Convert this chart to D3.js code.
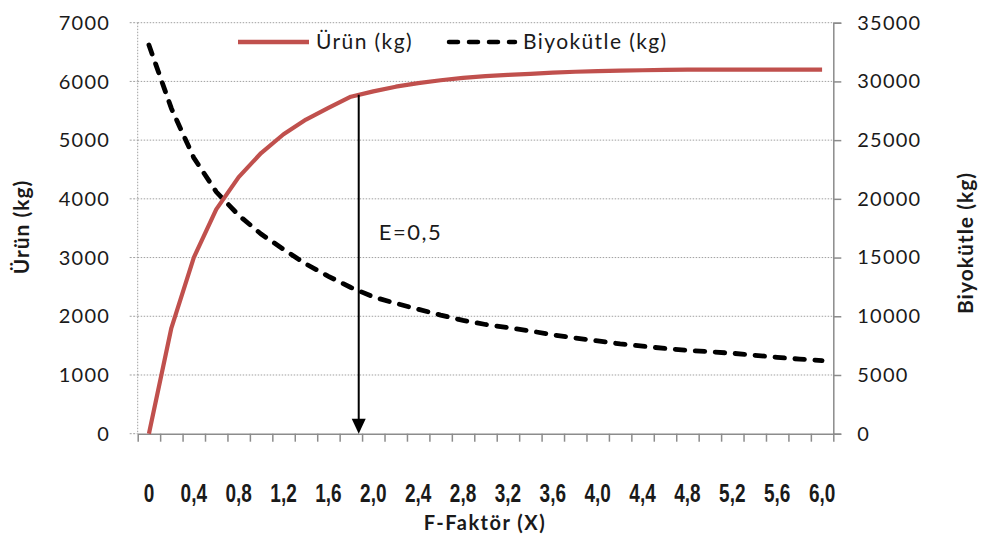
<!DOCTYPE html>
<html>
<head>
<meta charset="utf-8">
<script src="https://cdn.jsdelivr.net/npm/d3@7"></script>
<style>
  body { margin: 0; background: #fff; }
  svg { display: block; }
</style>
</head>
<body>
<svg id="chart" width="983" height="538"></svg>
<script>
// F factor categories (X)
const fValues = [0, 0.2, 0.4, 0.6, 0.8, 1.0, 1.2, 1.4, 1.6, 1.8, 2.0, 2.2, 2.4, 2.6, 2.8, 3.0,
                 3.2, 3.4, 3.6, 3.8, 4.0, 4.2, 4.4, 4.6, 4.8, 5.0, 5.2, 5.4, 5.6, 5.8, 6.0];
// Yield (kg), left axis
const urunKg = [0, 1800, 3000, 3820, 4370, 4780, 5100, 5350, 5550, 5740, 5830, 5910, 5970, 6020, 6060, 6090,
                6110, 6130, 6150, 6165, 6175, 6185, 6190, 6195, 6200, 6200, 6200, 6200, 6200, 6200, 6200];
// Biomass (kg), right axis
const biyokutleKg = [33100, 27700, 23500, 20600, 18600, 17000, 15700, 14450, 13400, 12450, 11650, 11100, 10600, 10100, 9650, 9300,
                     9030, 8750, 8420, 8150, 7900, 7650, 7450, 7260, 7100, 6980, 6850, 6680, 6500, 6350, 6220];
// Axis tick labels
const xTickValues = [0, 0.4, 0.8, 1.2, 1.6, 2.0, 2.4, 2.8, 3.2, 3.6, 4.0, 4.4, 4.8, 5.2, 5.6, 6.0];
const xTickLabels = ["0", "0,4", "0,8", "1,2", "1,6", "2,0", "2,4", "2,8", "3,2", "3,6", "4,0", "4,4", "4,8", "5,2", "5,6", "6,0"];
const leftTicks = [0, 1000, 2000, 3000, 4000, 5000, 6000, 7000];
const rightTicks = [0, 5000, 10000, 15000, 20000, 25000, 30000, 35000];
// Annotation arrow
const arrowF = 1.87;
const arrowLabel = "E=0,5";

const plot = { left: 137.7, right: 833.3, top: 22.7, bottom: 433.7 };
const RED = "#C0504D";
const GRID = "#A0A0A0";
const AXIS = "#8C8C8C";
const TEXT = "#1a1a1a";
const FONT = "Lato, 'Noto Sans', sans-serif";

const svg = d3.select("#chart");

const step = fValues[1] - fValues[0];
const x = d3.scaleLinear()
  .domain([fValues[0] - step / 2, fValues[fValues.length - 1] + step / 2])
  .range([plot.left, plot.right]);
const yL = d3.scaleLinear().domain([0, 7000]).range([plot.bottom, plot.top]);
const yR = d3.scaleLinear().domain([0, 35000]).range([plot.bottom, plot.top]);

// Horizontal dotted gridlines
svg.append("g").selectAll("line")
  .data(leftTicks.filter(v => v > 0))
  .join("line")
  .attr("x1", plot.left).attr("x2", plot.right)
  .attr("y1", d => yL(d)).attr("y2", d => yL(d))
  .attr("stroke", GRID).attr("stroke-width", 1)
  .attr("stroke-dasharray", "1.5,1.5");

// Left axis: dotted line with dotted ticks
const leftAxis = svg.append("g");
leftAxis.append("line")
  .attr("x1", plot.left).attr("x2", plot.left)
  .attr("y1", plot.top).attr("y2", plot.bottom)
  .attr("stroke", GRID).attr("stroke-dasharray", "1.5,1.5");
leftAxis.selectAll("line.tick")
  .data(leftTicks)
  .join("line").attr("class", "tick")
  .attr("x1", plot.left - 8).attr("x2", plot.left)
  .attr("y1", d => yL(d)).attr("y2", d => yL(d))
  .attr("stroke", GRID).attr("stroke-dasharray", "2,1.5");
leftAxis.selectAll("text")
  .data(leftTicks)
  .join("text")
  .attr("x", 110).attr("y", d => yL(d))
  .attr("dy", "0.36em")
  .attr("text-anchor", "end")
  .attr("font-family", FONT).attr("font-size", 20)
  .attr("letter-spacing", 1.2)
  .attr("fill", TEXT)
  .text(d => d);

// Right axis: solid line, ticks outward
const rightAxis = svg.append("g")
  .attr("transform", `translate(${plot.right},0)`)
  .call(d3.axisRight(yR).tickValues(rightTicks).tickSize(8).tickPadding(16).tickFormat(d3.format("d")));
rightAxis.select(".domain").attr("stroke", AXIS).attr("stroke-width", 1.5);
rightAxis.selectAll(".tick line").attr("stroke", AXIS).attr("stroke-width", 1.5);
rightAxis.selectAll(".tick text")
  .attr("font-family", FONT).attr("font-size", 20)
  .attr("letter-spacing", 1.2)
  .attr("fill", TEXT);

// Bottom axis: ticks at category boundaries
const boundaries = fValues.map(v => v - step / 2).concat([fValues[fValues.length - 1] + step / 2]);
const bottomAxis = svg.append("g")
  .attr("transform", `translate(0,${plot.bottom})`)
  .call(d3.axisBottom(x).tickValues(boundaries).tickSize(8).tickSizeOuter(0).tickFormat(""));
bottomAxis.select(".domain").attr("stroke", AXIS).attr("stroke-width", 1.5);
bottomAxis.selectAll(".tick line").attr("stroke", AXIS).attr("stroke-width", 1.5);

// Category labels (every second category)
svg.append("g").selectAll("text")
  .data(xTickValues)
  .join("text")
  .attr("transform", d => `translate(${x(d)},${502}) scale(1,1.35)`)
  .attr("text-anchor", "middle")
  .attr("font-family", "'Liberation Sans Narrow', 'Arial Narrow', 'Liberation Sans', sans-serif")
  .attr("font-weight", "bold")
  .attr("font-size", 19)
  .attr("fill", TEXT)
  .text((d, i) => xTickLabels[i]);

// Series lines
const urunLine = d3.line().x((d, i) => x(fValues[i])).y(d => yL(d));
const bioLine = d3.line().x((d, i) => x(fValues[i])).y(d => yR(d));

svg.append("path")
  .datum(biyokutleKg)
  .attr("d", bioLine)
  .attr("fill", "none")
  .attr("stroke", "#000")
  .attr("stroke-width", 4.8)
  .attr("stroke-linecap", "round")
  .attr("stroke-dasharray", "9.5,10.5");

svg.append("path")
  .datum(urunKg)
  .attr("d", urunLine)
  .attr("fill", "none")
  .attr("stroke", RED)
  .attr("stroke-width", 4.2)
  .attr("stroke-linejoin", "round");

// Vertical arrow from the yield curve down to the axis
const urunAt = f => {
  const i = Math.min(Math.floor((f - fValues[0]) / step), fValues.length - 2);
  const t = (f - fValues[i]) / step;
  return urunKg[i] + t * (urunKg[i + 1] - urunKg[i]);
};
const ax = x(arrowF);
const headH = 15, headW = 7;
svg.append("line")
  .attr("x1", ax).attr("x2", ax)
  .attr("y1", yL(urunAt(arrowF))).attr("y2", yL(0) - headH + 1)
  .attr("stroke", "#000").attr("stroke-width", 2);
svg.append("path")
  .attr("d", `M${ax},${yL(0)} L${ax - headW},${yL(0) - headH} L${ax + headW},${yL(0) - headH} Z`)
  .attr("fill", "#000");
svg.append("text")
  .attr("x", ax + 20).attr("y", 240)
  .attr("font-family", FONT).attr("font-size", 22)
  .attr("letter-spacing", 1.5)
  .attr("fill", TEXT)
  .text(arrowLabel);

// Legend
const legend = svg.append("g");
legend.append("line")
  .attr("x1", 238).attr("x2", 309).attr("y1", 42).attr("y2", 42)
  .attr("stroke", RED).attr("stroke-width", 4.5);
legend.append("text")
  .attr("x", 316).attr("y", 42).attr("dy", "0.35em")
  .attr("font-family", FONT).attr("font-size", 21).attr("letter-spacing", 1.4)
  .attr("fill", TEXT).text("Ürün (kg)");
legend.append("line")
  .attr("x1", 449).attr("x2", 515).attr("y1", 42).attr("y2", 42)
  .attr("stroke", "#000").attr("stroke-width", 4.5)
  .attr("stroke-linecap", "round").attr("stroke-dasharray", "9,11");
legend.append("text")
  .attr("x", 523).attr("y", 42).attr("dy", "0.35em")
  .attr("font-family", FONT).attr("font-size", 21).attr("letter-spacing", 1.4)
  .attr("fill", TEXT).text("Biyokütle (kg)");

// Axis titles
svg.append("text")
  .attr("transform", `translate(29,227) rotate(-90)`)
  .attr("text-anchor", "middle")
  .attr("font-family", FONT).attr("font-weight", "bold").attr("font-size", 21)
  .attr("letter-spacing", 1)
  .attr("fill", TEXT).text("Ürün (kg)");
svg.append("text")
  .attr("transform", `translate(973,243) rotate(-90)`)
  .attr("text-anchor", "middle")
  .attr("font-family", FONT).attr("font-weight", "bold").attr("font-size", 21)
  .attr("letter-spacing", 1)
  .attr("fill", TEXT).text("Biyokütle (kg)");
svg.append("text")
  .attr("x", 485).attr("y", 530)
  .attr("text-anchor", "middle")
  .attr("font-family", FONT).attr("font-weight", "bold").attr("font-size", 20)
  .attr("letter-spacing", 1.5)
  .attr("fill", TEXT).text("F-Faktör (X)");
</script>
</body>
</html>
